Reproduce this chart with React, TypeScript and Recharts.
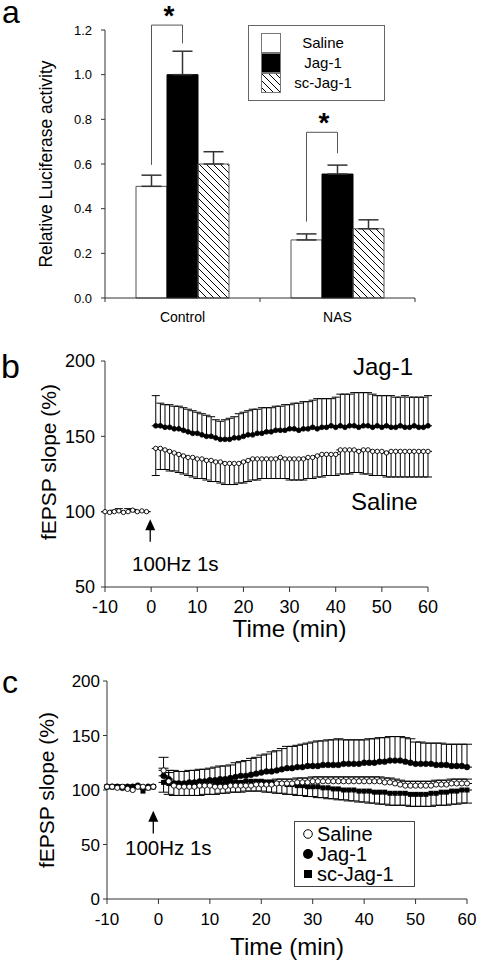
import React from 'react';
import {
  BarChart,
  Bar,
  LineChart,
  Line,
  XAxis,
  YAxis,
  ErrorBar,
  LabelList,
  Legend,
  ReferenceLine,
} from 'recharts';

const FONT = '"Liberation Sans", Arial, Helvetica, sans-serif';
const AXIS = '#333';

// ---- panel a: luciferase assay ----
const groups = ['Control', 'NAS'];
const salineA = [0.5, 0.26];
const jagA = [1.0, 0.555];
const scJagA = [0.6, 0.31];
const salineAErr = [0.05, 0.027];
const jagAErr = [0.105, 0.04];
const scJagAErr = [0.055, 0.04];
// significance brackets (left leg end, top, right leg end)
const sigLeft = [0.596, 0.342];
const sigTop = [1.222, 0.742];
const sigRight = [1.14, 0.648];
const ticksA = [0, 0.2, 0.4, 0.6, 0.8, 1.0, 1.2];

// ---- panels b, c: time axis ----
const tBase = [-10, -9, -8, -7, -6, -5, -4, -3, -2, -1];
const tPost = [
  1, 2, 3, 4, 5, 6, 7, 8, 9, 10, 11, 12, 13, 14, 15, 16, 17, 18, 19, 20,
  21, 22, 23, 24, 25, 26, 27, 28, 29, 30, 31, 32, 33, 34, 35, 36, 37, 38, 39, 40,
  41, 42, 43, 44, 45, 46, 47, 48, 49, 50, 51, 52, 53, 54, 55, 56, 57, 58, 59, 60,
];
const ticksT = [-10, 0, 10, 20, 30, 40, 50, 60];

// ---- panel b ----
const salineBaseB = [100, 99.5, 100, 100.5, 99.5, 100, 101, 100, 100.5, 100];
const salineBaseTopB = [100, 99.5, 101, 102, 99.5, 102, 101.5, 100, 100.5, 100];
const jagB = [
  157, 157, 156, 156, 155, 155, 154, 153, 152, 152, 151, 150, 150, 149, 148,
  148, 148, 149, 149, 150, 151, 151, 152, 152, 153, 153, 154, 154, 154, 155,
  155, 154, 155, 155, 156, 155, 156, 156, 157, 156, 157, 156, 157, 157, 156,
  157, 157, 156, 157, 156, 157, 156, 156, 157, 156, 156, 157, 156, 156, 157,
];
const jagTopB = [
  177, 172, 171, 171, 170, 170, 169, 168, 167, 166, 165, 164, 163, 161, 160,
  161, 162, 163, 165, 166, 167, 168, 168, 169, 169, 169, 170, 170, 171, 171,
  172, 172, 173, 173, 174, 175, 175, 175, 175, 176, 178, 178, 178, 179, 179,
  179, 179, 178, 177, 177, 177, 177, 176, 176, 177, 176, 176, 176, 176, 177,
];
const salineB = [
  142, 142, 141, 140, 139, 138, 137, 136, 136, 135, 135, 134, 134, 133, 133,
  132, 132, 132, 132, 133, 134, 135, 135, 135, 135, 135, 135, 136, 135, 135,
  135, 135, 135, 136, 136, 137, 138, 138, 138, 138, 141, 141, 141, 141, 140,
  141, 141, 140, 140, 140, 139, 140, 140, 140, 140, 140, 140, 140, 140, 140,
];
const salineLowB = [
  124, 128, 128, 127, 127, 126, 125, 124, 123, 122, 122, 121, 120, 120, 119,
  118, 118, 118, 119, 119, 120, 121, 121, 122, 122, 122, 122, 122, 122, 121,
  121, 121, 121, 122, 122, 123, 123, 124, 124, 124, 125, 125, 125, 126, 126,
  125, 125, 124, 124, 124, 123, 123, 123, 123, 123, 123, 123, 123, 123, 123,
];

// ---- panel c ----
const salineBaseC = [103, 103, 102, 103, 101, 100, 103, 103, 102, 103];
const jagBaseC = [103, 103, 103, 102, 103, 103, 104, 102, 103, 103];
const scBaseC = [103, 103, 103, 103, 102, 103, 103, 99, 102, 103];
const salineC = [
  118, 108, 104, 103, 103, 103, 103, 104, 104, 104, 103, 103, 103, 104, 104,
  104, 104, 104, 105, 105, 105, 105, 106, 106, 106, 106, 107, 107, 107, 108,
  108, 108, 108, 108, 108, 108, 108, 108, 108, 108, 108, 108, 108, 107, 107,
  106, 105, 104, 104, 104, 104, 104, 104, 105, 105, 105, 106, 106, 106, 106,
];
const salineTopC = [
  130, 116, 108, 107, 107, 107, 107, 108, 108, 108, 107, 107, 107, 108, 108,
  108, 108, 108, 109, 109, 109, 109, 110, 110, 110, 110, 111, 111, 111, 112,
  112, 112, 112, 112, 112, 112, 112, 112, 112, 112, 112, 112, 112, 111, 111,
  110, 109, 108, 108, 108, 108, 108, 108, 109, 109, 109, 110, 110, 110, 110,
];
const jagC = [
  113, 110, 106, 106, 106, 107, 107, 108, 108, 109, 109, 110, 110, 111, 112,
  113, 113, 114, 115, 116, 117, 117, 118, 119, 120, 120, 121, 121, 122, 122,
  122, 123, 123, 123, 123, 124, 124, 124, 124, 125, 125, 125, 126, 126, 127,
  127, 127, 126, 125, 124, 124, 124, 124, 123, 123, 123, 122, 122, 122, 121,
];
const jagTopC = [
  120, 118, 118, 117, 117, 118, 118, 119, 119, 120, 121, 122, 122, 123, 125,
  126, 127, 129, 130, 132, 133, 135, 136, 138, 140, 140, 141, 142, 143, 144,
  145, 145, 146, 146, 147, 146, 146, 146, 146, 146, 147, 147, 148, 148, 149,
  149, 149, 148, 147, 144, 144, 143, 143, 143, 143, 142, 142, 142, 142, 142,
];
const scC = [
  107, 106, 105, 104, 104, 104, 104, 104, 105, 105, 105, 106, 106, 107, 107,
  107, 108, 108, 108, 108, 107, 107, 106, 106, 105, 105, 104, 104, 103, 103,
  103, 102, 102, 101, 101, 100, 100, 100, 99, 99, 99, 98, 98, 98, 97,
  97, 97, 97, 96, 96, 96, 96, 97, 97, 98, 98, 99, 99, 100, 100,
];
const scLowC = [
  98, 96, 95, 95, 95, 95, 95, 95, 96, 96, 96, 97, 97, 98, 98,
  98, 99, 99, 99, 99, 98, 98, 97, 97, 96, 96, 95, 95, 94, 94,
  93, 93, 92, 92, 91, 91, 90, 90, 89, 89, 88, 88, 87, 87, 86,
  86, 86, 86, 85, 85, 85, 85, 85, 86, 86, 86, 87, 87, 88, 88,
];

// stimulus arrows (data coordinates)
const arrowB = [{ x: -0.2, y: 80 }, { x: -0.2, y: 95 }];
const arrowC = [{ x: -1, y: 60 }, { x: -1, y: 81 }];

const rowsA = groups.map((g, i) => ({
  group: g,
  saline: salineA[i],
  jag: jagA[i],
  scJag: scJagA[i],
  salineErr: [0, salineAErr[i]],
  jagErr: [0, jagAErr[i]],
  scJagErr: [0, scJagAErr[i]],
}));

const rowsB = [
  ...tBase.map((t, i) => ({
    t,
    saline: salineBaseB[i],
    salineErr: [0, salineBaseTopB[i] - salineBaseB[i]],
  })),
  { t: 0 },
  ...tPost.map((t, i) => ({
    t,
    jag: jagB[i],
    jagErr: [0, jagTopB[i] - jagB[i]],
    saline: salineB[i],
    salineErr: [salineB[i] - salineLowB[i], 0],
  })),
];

const rowsC = [
  ...tBase.map((t, i) => ({
    t,
    saline: salineBaseC[i],
    jag: jagBaseC[i],
    sc: scBaseC[i],
  })),
  { t: 0 },
  ...tPost.map((t, i) => ({
    t,
    saline: salineC[i],
    salineErr: [0, salineTopC[i] - salineC[i]],
    jag: jagC[i],
    jagErr: [0, jagTopC[i] - jagC[i]],
    sc: scC[i],
    scErr: [scC[i] - scLowC[i], 0],
  })),
];

// plot area of panel a, used for the category boundary ticks
const PLOT_A_LEFT = 105;
const PLOT_A_RIGHT = 415;
const bandA = (PLOT_A_RIGHT - PLOT_A_LEFT) / groups.length;

function CategoryTick(props: any) {
  const { x, y, payload, index } = props;
  const axisY = y - 14;
  const half = bandA / 2;
  return (
    <g>
      {index === 0 && (
        <line x1={x - half} x2={x - half} y1={axisY} y2={axisY + 4} stroke={AXIS} />
      )}
      <line x1={x + half} x2={x + half} y1={axisY} y2={axisY + 4} stroke={AXIS} />
      <text x={x} y={y} dy="0.71em" textAnchor="middle" fontSize={14} fill="#000">
        {payload.value}
      </text>
    </g>
  );
}

function SigBracket(props: any) {
  const vb = props.viewBox || props;
  const { x, y, width, height } = vb;
  const i = props.index;
  const v = Number(props.value);
  if (!v || i == null) return null;
  const unit = height / v;
  const base = y + height;
  const at = (u: number) => base - u * unit;
  const x1 = x + width / 2;
  const x2 = x + width * 1.5;
  const top = at(sigTop[i]);
  return (
    <g>
      <path
        d={`M${x1},${at(sigLeft[i])}V${top}H${x2}V${at(sigRight[i])}`}
        fill="none"
        stroke="#555"
        strokeWidth={1}
      />
      <text x={(x1 + x2) / 2 + 2} y={top} textAnchor="middle" fontSize={28} fontWeight="bold" fill="#000">
        *
      </text>
    </g>
  );
}

function ArrowShape(p: any) {
  const { x1, y1, y2 } = p;
  const tip = Math.min(y1, y2);
  const tail = Math.max(y1, y2);
  return (
    <g>
      <line x1={x1} x2={x1} y1={tip + 8} y2={tail} stroke="#000" strokeWidth={1.3} />
      <path d={`M${x1},${tip}L${x1 - 5},${tip + 11}L${x1 + 5},${tip + 11}Z`} fill="#000" />
    </g>
  );
}

function SquareDot(p: any) {
  if (p.cy == null || isNaN(p.cy)) return <g key={p.key} />;
  return <rect key={p.key} x={p.cx - 2.5} y={p.cy - 2.5} width={5} height={5} fill="#000" />;
}

const swatchA: Record<string, string> = { saline: '#fff', jag: '#000', scJag: 'url(#hatchA)' };
const orderA = ['saline', 'jag', 'scJag'];

function LegendA({ payload }: any) {
  const items = orderA.map((k) => (payload || []).find((p: any) => p.dataKey === k)).filter(Boolean);
  return (
    <div style={{ width: 137, height: 76, border: '1.5px solid #666', boxSizing: 'border-box', background: '#fff', position: 'relative', fontFamily: FONT }}>
      {items.map((p: any, i: number) => (
        <div key={p.dataKey} style={{ position: 'absolute', left: 12, top: 7 + i * 20, height: 20, width: 120 }}>
          <svg width={20} height={20} style={{ position: 'absolute', left: 0, top: 0 }}>
            <rect x={0.5} y={0.5} width={19} height={19} fill={swatchA[p.dataKey]} stroke="#777" />
          </svg>
          <span style={{ position: 'absolute', left: 24, width: 76, textAlign: 'center', fontSize: 15, lineHeight: '20px', color: '#000' }}>
            {p.value}
          </span>
        </div>
      ))}
    </div>
  );
}

const orderC = ['saline', 'jag', 'sc'];

function LegendC({ payload }: any) {
  const items = orderC.map((k) => (payload || []).find((p: any) => p.dataKey === k)).filter(Boolean);
  return (
    <div style={{ width: 121, height: 66, border: '1.5px solid #444', boxSizing: 'border-box', background: '#fff', position: 'relative', fontFamily: FONT }}>
      {items.map((p: any, i: number) => (
        <div key={p.dataKey} style={{ position: 'absolute', left: 0, top: 2 + i * 20, height: 20, width: 118 }}>
          <svg width={20} height={20} style={{ position: 'absolute', left: 3, top: 0 }}>
            {p.dataKey === 'saline' && <circle cx={10} cy={10} r={4.3} fill="#fff" stroke="#000" />}
            {p.dataKey === 'jag' && <circle cx={10} cy={10} r={5} fill="#000" />}
            {p.dataKey === 'sc' && <rect x={6} y={6} width={8} height={8} fill="#000" />}
          </svg>
          <span style={{ position: 'absolute', left: 22, fontSize: 20, lineHeight: '20px', color: '#000', whiteSpace: 'nowrap' }}>
            {p.value}
          </span>
        </div>
      ))}
    </div>
  );
}

function LuciferaseChart() {
  return (
    <BarChart
      width={483}
      height={330}
      data={rowsA}
      margin={{ top: 30, right: 483 - PLOT_A_RIGHT, left: -13, bottom: 2 }}
      barCategoryGap="20%"
      barGap={0}
    >
      <defs>
        <pattern id="hatchA" width={7} height={7} patternUnits="userSpaceOnUse">
          <path d="M-1,-1L8,8M-1,6L1,8M6,-1L8,1" stroke="#000" strokeWidth={1} />
        </pattern>
      </defs>
      <XAxis
        dataKey="group"
        height={30}
        tickSize={4}
        tickMargin={10}
        tickLine={false}
        axisLine={{ stroke: AXIS }}
        tick={<CategoryTick />}
      />
      <YAxis
        width={118}
        domain={[0, 1.2]}
        ticks={ticksA}
        interval={0}
        tickFormatter={(v: number) => v.toFixed(1)}
        tickSize={4}
        tickMargin={9}
        axisLine={{ stroke: AXIS }}
        tickLine={{ stroke: AXIS }}
        tick={{ fontSize: 13, fill: '#000' }}
        label={{ value: 'Relative Luciferase activity', angle: -90, position: 'center', fontSize: 17.5, fill: '#000' }}
      />
      <Bar dataKey="saline" name="Saline" fill="#fff" stroke="#555" isAnimationActive={false}>
        <ErrorBar dataKey="salineErr" width={10} stroke="#333" direction="y" />
        <LabelList dataKey="saline" content={SigBracket} />
      </Bar>
      <Bar dataKey="jag" name="Jag-1" fill="#000" stroke="#000" isAnimationActive={false}>
        <ErrorBar dataKey="jagErr" width={10} stroke="#333" direction="y" />
      </Bar>
      <Bar dataKey="scJag" name="sc-Jag-1" fill="url(#hatchA)" stroke="#555" isAnimationActive={false}>
        <ErrorBar dataKey="scJagErr" width={10} stroke="#333" direction="y" />
      </Bar>
      <Legend
        layout="vertical"
        align="center"
        verticalAlign="middle"
        content={<LegendA />}
        wrapperStyle={{ position: 'absolute', left: 248, top: 25, width: 137, height: 76 }}
      />
    </BarChart>
  );
}

function LtpChart() {
  return (
    <LineChart width={483} height={320} data={rowsB} margin={{ top: 31, right: 55, left: -7, bottom: 5 }}>
      <XAxis
        type="number"
        dataKey="t"
        domain={[-10, 60]}
        ticks={ticksT}
        interval={0}
        height={58}
        tickSize={5}
        tickMargin={8}
        axisLine={{ stroke: AXIS }}
        tickLine={{ stroke: AXIS }}
        tick={{ fontSize: 18, fill: '#000' }}
        label={{ value: 'Time (min)', position: 'insideBottom', offset: 8, dx: 23, fontSize: 24, fill: '#000' }}
      />
      <YAxis
        type="number"
        domain={[50, 200]}
        ticks={[50, 100, 150, 200]}
        interval={0}
        width={112}
        tickSize={4}
        tickMargin={6}
        axisLine={{ stroke: AXIS }}
        tickLine={{ stroke: AXIS }}
        tick={{ fontSize: 18, fill: '#000' }}
        label={{ value: 'fEPSP slope (%)', angle: -90, position: 'center', dy: -12, fontSize: 21, fill: '#000' }}
      />
      <ReferenceLine segment={arrowB} shape={ArrowShape} />
      <Line
        dataKey="saline"
        name="Saline"
        stroke="#000"
        strokeWidth={1}
        dot={{ r: 2.2, fill: '#fff', stroke: '#000', strokeWidth: 0.9 }}
        activeDot={false}
        isAnimationActive={false}
      >
        <ErrorBar dataKey="salineErr" width={4} stroke="#000" strokeWidth={1} direction="y" />
      </Line>
      <Line
        dataKey="jag"
        name="Jag-1"
        stroke="#000"
        strokeWidth={1.5}
        dot={{ r: 2.4, fill: '#000', stroke: '#000', strokeWidth: 0.8 }}
        activeDot={false}
        isAnimationActive={false}
      >
        <ErrorBar dataKey="jagErr" width={4} stroke="#000" strokeWidth={1} direction="y" />
      </Line>
    </LineChart>
  );
}

function ControlLtpChart() {
  return (
    <LineChart width={483} height={313} data={rowsC} margin={{ top: 31, right: 16, left: -13, bottom: 6 }}>
      <XAxis
        type="number"
        dataKey="t"
        domain={[-10, 60]}
        ticks={ticksT}
        interval={0}
        height={58}
        tickSize={5}
        tickMargin={9}
        axisLine={{ stroke: AXIS }}
        tickLine={{ stroke: AXIS }}
        tick={{ fontSize: 17, fill: '#000' }}
        label={{ value: 'Time (min)', position: 'insideBottom', offset: 2, fontSize: 24, fill: '#000' }}
      />
      <YAxis
        type="number"
        domain={[0, 200]}
        ticks={[0, 50, 100, 150, 200]}
        interval={0}
        width={120}
        tickSize={4}
        tickMargin={3}
        axisLine={{ stroke: AXIS }}
        tickLine={{ stroke: AXIS }}
        tick={{ fontSize: 17, fill: '#000' }}
        label={{ value: 'fEPSP slope (%)', angle: -90, position: 'center', fontSize: 21, fill: '#000' }}
      />
      <ReferenceLine segment={arrowC} shape={ArrowShape} />
      <Line
        dataKey="sc"
        name="sc-Jag-1"
        stroke="#000"
        strokeWidth={1.5}
        dot={SquareDot}
        activeDot={false}
        isAnimationActive={false}
      >
        <ErrorBar dataKey="scErr" width={5} stroke="#000" strokeWidth={1} direction="y" />
      </Line>
      <Line
        dataKey="jag"
        name="Jag-1"
        stroke="#000"
        strokeWidth={1.5}
        dot={{ r: 2.9, fill: '#000', stroke: '#000', strokeWidth: 0.5 }}
        activeDot={false}
        isAnimationActive={false}
      >
        <ErrorBar dataKey="jagErr" width={5} stroke="#000" strokeWidth={1} direction="y" />
      </Line>
      <Line
        dataKey="saline"
        name="Saline"
        stroke="#000"
        strokeWidth={1}
        dot={{ r: 2.6, fill: '#fff', stroke: '#000', strokeWidth: 0.9 }}
        activeDot={false}
        isAnimationActive={false}
      >
        <ErrorBar dataKey="salineErr" width={5} stroke="#000" strokeWidth={1} direction="y" />
      </Line>
      <Legend
        layout="vertical"
        align="center"
        verticalAlign="middle"
        content={<LegendC />}
        wrapperStyle={{ position: 'absolute', left: 294, top: 171, width: 121, height: 66 }}
      />
    </LineChart>
  );
}

export default function App() {
  return (
    <div
      style={{
        position: 'absolute',
        left: 0,
        top: 0,
        width: 483,
        height: 963,
        background: '#fff',
        fontFamily: FONT,
        color: '#000',
        overflow: 'hidden',
      }}
    >
      <div style={{ position: 'absolute', left: 0, top: 0 }}>
        <LuciferaseChart />
      </div>
      <div style={{ position: 'absolute', left: 0, top: 330 }}>
        <LtpChart />
      </div>
      <div style={{ position: 'absolute', left: 0, top: 650 }}>
        <ControlLtpChart />
      </div>
      <svg
        width={483}
        height={963}
        style={{ position: 'absolute', left: 0, top: 0, pointerEvents: 'none' }}
        fontFamily={FONT}
      >
        <text x={2} y={23} fontSize={32}>a</text>
        <text x={1} y={378} fontSize={34}>b</text>
        <text x={2} y={693} fontSize={32}>c</text>
        <text x={353} y={375} fontSize={24}>Jag-1</text>
        <text x={351} y={510} fontSize={24}>Saline</text>
        <text x={132} y={571} fontSize={20.5}>100Hz 1s</text>
        <text x={125} y={855} fontSize={20.5}>100Hz 1s</text>
      </svg>
    </div>
  );
}
